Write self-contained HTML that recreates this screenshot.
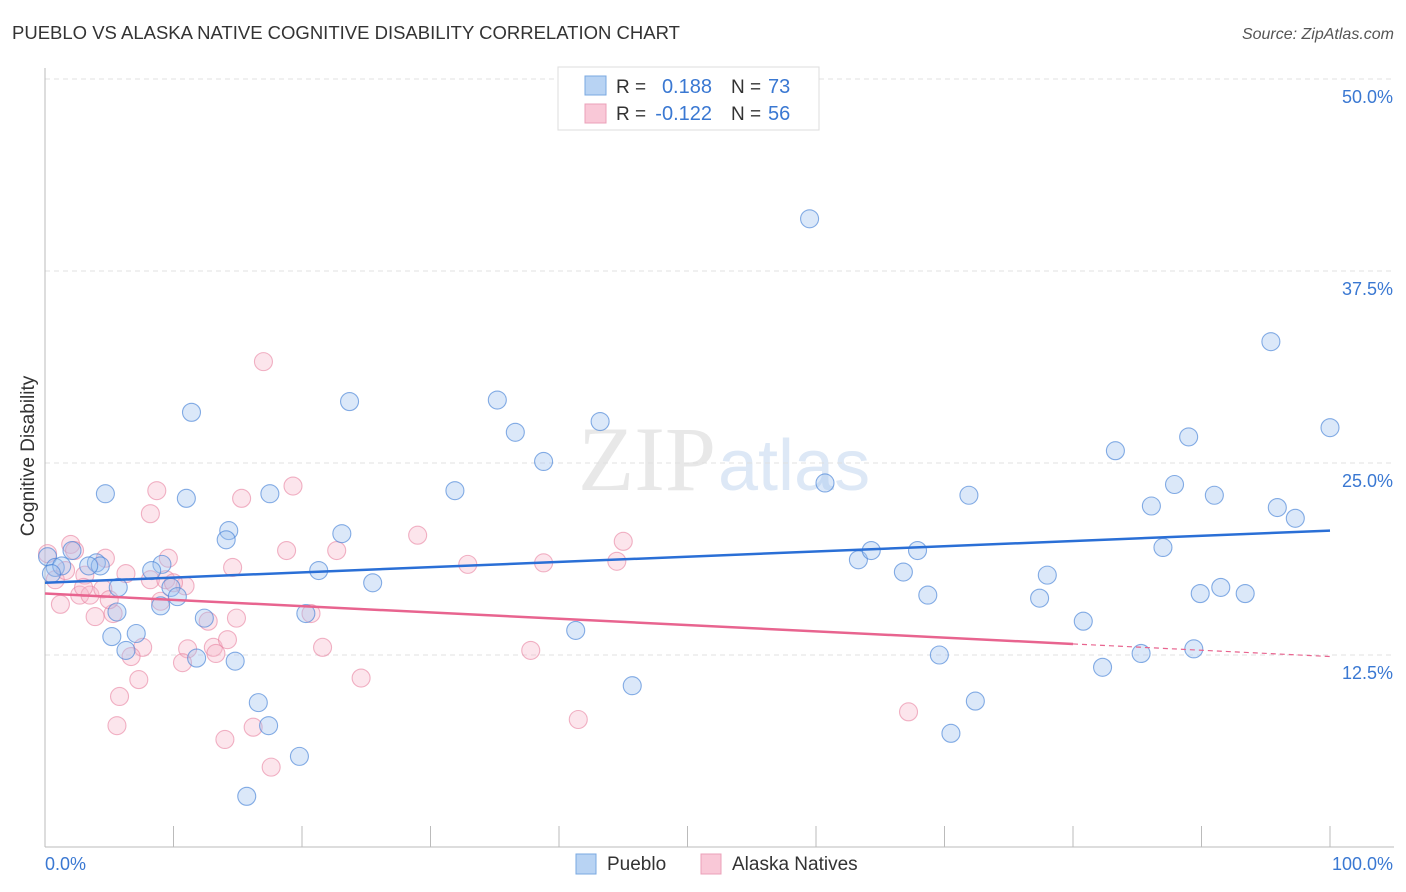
<!DOCTYPE html>
<html><head><meta charset="utf-8"><style>
body{margin:0;background:#fff;font-family:"Liberation Sans",sans-serif;}
svg{display:block}
</style></head><body>
<svg id="chart" width="1406" height="892" xmlns="http://www.w3.org/2000/svg">
<text x="12" y="39" font-size="18.5" fill="#333">PUEBLO VS ALASKA NATIVE COGNITIVE DISABILITY CORRELATION CHART</text>
<text x="1394" y="39" font-size="16" fill="#555" text-anchor="end" font-style="italic">Source: ZipAtlas.com</text>
<text x="716" y="490" font-size="92" fill="#e8e8e8" text-anchor="end" font-family="Liberation Serif">ZIP</text>
<text x="718" y="490" font-size="72" fill="#dde8f6">atlas</text>
<text x="34" y="456" font-size="19" fill="#333" text-anchor="middle" transform="rotate(-90 34 456)">Cognitive Disability</text>
<g id="grid"></g><g id="pts"></g><g id="trend"></g>
<g>
<rect x="558" y="67" width="261" height="63" fill="#fff" stroke="#ddd"/>
<rect x="585" y="76" width="21" height="19" fill="#b8d3f3" stroke="#7aa8e0"/>
<rect x="585" y="104" width="21" height="19" fill="#f9c8d7" stroke="#eba0b8"/>
<text x="616" y="93" font-size="19" fill="#333">R =</text><text x="712" y="93" font-size="20" fill="#3a78d2" text-anchor="end">0.188</text>
<text x="731" y="93" font-size="19" fill="#333">N =</text><text x="768" y="93" font-size="20" fill="#3a78d2">73</text>
<text x="616" y="120" font-size="19" fill="#333">R =</text><text x="712" y="120" font-size="20" fill="#3a78d2" text-anchor="end">-0.122</text>
<text x="731" y="120" font-size="19" fill="#333">N =</text><text x="768" y="120" font-size="20" fill="#3a78d2">56</text>
</g>
<g>
<rect x="576" y="854" width="20" height="20" fill="#b8d3f3" stroke="#7aa8e0"/>
<text x="607" y="870" font-size="19" fill="#333">Pueblo</text>
<rect x="701" y="854" width="20" height="20" fill="#f9c8d7" stroke="#eba0b8"/>
<text x="732" y="870" font-size="19" fill="#333">Alaska Natives</text>
</g>
</svg>
<script>
const yTicks=[12.5,25,37.5,50];
const yTickLabels=["12.5%","25.0%","37.5%","50.0%"];
const xLabels=["0.0%","100.0%"];
const puebloX=[59.5,95.4,100,11.4,23.7,35.2,43.2,36.6,38.8,83.3,89.0,4.7,11.0,17.5,31.9,60.7,71.9,87.9,91.0,86.1,95.9,97.3,14.3,14.1,23.1,2.1,0.2,4.0,4.3,0.8,1.3,3.4,9.1,8.3,9.8,10.3,9.0,5.6,5.7,21.3,25.5,20.3,12.4,5.2,7.1,6.3,11.8,14.8,16.6,17.4,19.8,15.7,41.3,45.7,63.3,64.3,67.9,66.8,68.7,69.6,72.4,70.5,78.0,77.4,80.8,82.3,85.3,87.0,89.9,91.5,93.4,89.4,0.5];
const puebloY=[40.9,32.9,27.3,28.3,29.0,29.1,27.7,27.0,25.1,25.8,26.7,23.0,22.7,23.0,23.2,23.7,22.9,23.6,22.9,22.2,22.1,21.4,20.6,20.0,20.4,19.3,18.9,18.5,18.3,18.2,18.3,18.3,18.4,18.0,16.9,16.3,15.7,15.3,16.9,18.0,17.2,15.2,14.9,13.7,13.9,12.8,12.3,12.1,9.4,7.9,5.9,3.3,14.1,10.5,18.7,19.3,19.3,17.9,16.4,12.5,9.5,7.4,17.7,16.2,14.7,11.7,12.6,19.5,16.5,16.9,16.5,12.9,17.8];
const alaskaX=[0.2,0.8,2.0,1.2,3.1,2.3,4.7,3.9,2.7,3.5,4.5,5.3,6.3,5.0,8.7,8.2,9.6,8.2,9.4,10.9,9.0,12.7,7.6,6.7,7.3,5.8,5.6,11.1,10.7,13.1,13.3,14.2,14.9,14.6,15.3,17.0,19.3,18.8,16.2,14.0,17.6,20.7,21.6,22.7,24.6,29.0,32.9,38.8,44.5,45.0,37.8,41.5,67.2,1.6,3.0,10.0];
const alaskaY=[19.1,17.4,19.7,15.8,17.7,19.3,18.8,15.0,16.4,16.4,16.8,15.2,17.8,16.1,23.2,21.7,18.8,17.4,17.4,17.0,16.0,14.7,13.0,12.4,10.9,9.8,7.9,12.9,12.0,13.0,12.6,13.5,14.9,18.2,22.7,31.6,23.5,19.3,7.8,7.0,5.2,15.2,13.0,19.3,11.0,20.3,18.4,18.5,18.6,19.9,12.8,8.3,8.8,18.0,16.9,17.2];
const puebloTrend=[17.2,20.6];
const alaskaTrend=[16.5,12.4];
const alaskaSolidEnd=80;
const NS="http://www.w3.org/2000/svg";
const X0=45,X1=1330,Y0=847,YT=79;
const xs=v=>X0+(X1-X0)*v/100;
const ys=v=>Y0-(Y0-YT)*v/50;
function mk(tag,at,parent){const e=document.createElementNS(NS,tag);for(const k in at)e.setAttribute(k,at[k]);parent.appendChild(e);return e;}
const grid=document.getElementById('grid');
yTicks.forEach((t,i)=>{
 const l=mk('line',{x1:X0,x2:1394,y1:ys(t),y2:ys(t),stroke:'#e0e0e0','stroke-dasharray':'5,4'},grid);
 
 
 const tx=mk('text',{x:1393,y:ys(t)+24,'font-size':18,fill:'#3a78d2','text-anchor':'end'},grid);
 tx.textContent=yTickLabels[i];
 
 
});
const ax=mk('line',{x1:X0,x2:X0,y1:68,y2:Y0,stroke:'#bbb'},grid);


const bx=mk('line',{x1:X0,x2:1394,y1:Y0,y2:Y0,stroke:'#bbb'},grid);


for(let i=1;i<=10;i++){const t=mk('line',{x1:xs(i*10),x2:xs(i*10),y1:826,y2:Y0,stroke:'#bbb'},grid);
 
 }
const xl0=mk('text',{x:45,y:870,'font-size':18,fill:'#3a78d2'},grid);xl0.textContent=xLabels[0];


const xl1=mk('text',{x:1393,y:870,'font-size':18,fill:'#3a78d2','text-anchor':'end'},grid);xl1.textContent=xLabels[1];


const pts=document.getElementById('pts');
alaskaX.forEach((x,i)=>{const c=mk('circle',{cx:xs(x),cy:ys(alaskaY[i]),r:9,fill:'rgba(247,180,200,0.35)',stroke:'rgba(232,130,160,0.6)','stroke-width':1.1},pts);
 
 });
puebloX.forEach((x,i)=>{const c=mk('circle',{cx:xs(x),cy:ys(puebloY[i]),r:9,fill:'rgba(160,195,240,0.38)',stroke:'rgba(70,130,215,0.65)','stroke-width':1.1},pts);
 
 });
const tr=document.getElementById('trend');
const pl=mk('line',{x1:xs(0),y1:ys(puebloTrend[0]),x2:xs(100),y2:ys(puebloTrend[1]),stroke:'#2a6fd6','stroke-width':2.5},tr);


const aMid=alaskaTrend[0]+(alaskaTrend[1]-alaskaTrend[0])*alaskaSolidEnd/100;
const al=mk('line',{x1:xs(0),y1:ys(alaskaTrend[0]),x2:xs(alaskaSolidEnd),y2:ys(aMid),stroke:'#e8648f','stroke-width':2.5},tr);


const ad=mk('line',{x1:xs(alaskaSolidEnd),y1:ys(aMid),x2:xs(100),y2:ys(alaskaTrend[1]),stroke:'#e8648f','stroke-width':1.2,'stroke-dasharray':'5,4'},tr);


</script>
</body></html>
